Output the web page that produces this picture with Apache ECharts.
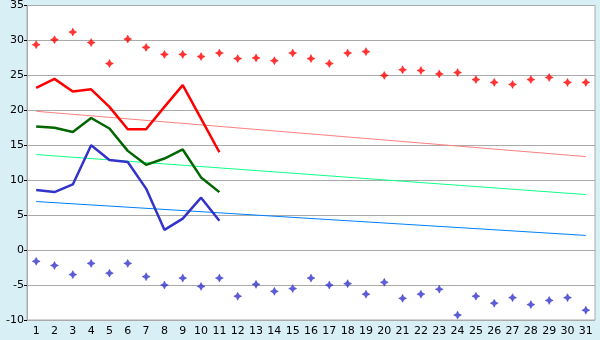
<!DOCTYPE html>
<html>
<head>
<meta charset="utf-8">
<script src="https://cdn.jsdelivr.net/npm/echarts@6/dist/echarts.min.js"></script>
<style>
html,body{margin:0;padding:0;background:#D9EFF6;}
#c{width:600px;height:340px;}
</style>
</head>
<body>
<div id="c"></div>
<script>
var days = ['1','2','3','4','5','6','7','8','9','10','11','12','13','14','15','16','17','18','19','20','21','22','23','24','25','26','27','28','29','30','31'];
var yTicks = [-10, -5, 0, 5, 10, 15, 20, 25, 30, 35];

// Record highs (red dots)
var recordMax = [29.4, 30.1, 31.2, 29.7, 26.7, 30.2, 29.0, 28.0, 28.0, 27.7, 28.2, 27.4, 27.5, 27.1, 28.2, 27.4, 26.7, 28.2, 28.4, 25.0, 25.8, 25.7, 25.2, 25.4, 24.4, 24.0, 23.7, 24.4, 24.7, 24.0, 24.0];
// Record lows (blue dots)
var recordMin = [-1.6, -2.2, -3.5, -1.9, -3.3, -1.9, -3.8, -5.0, -4.0, -5.2, -4.0, -6.6, -4.9, -5.9, -5.5, -4.0, -5.0, -4.8, -6.3, -4.6, -6.9, -6.3, -5.6, -9.3, -6.6, -7.6, -6.8, -7.8, -7.2, -6.8, -8.6];
// Current month values (days 1-11)
var maxTemp = [23.2, 24.5, 22.7, 23.0, 20.5, 17.3, 17.3, 20.5, 23.6, 18.8, 14.0];
var meanTemp = [17.7, 17.5, 16.9, 18.9, 17.4, 14.2, 12.2, 13.1, 14.4, 10.4, 8.3];
var minTemp = [8.6, 8.3, 9.4, 15.0, 12.9, 12.6, 8.8, 2.9, 4.5, 7.5, 4.2];
// Normal (climatological) lines: values at day 1 and day 31
var normMax = [['1', 19.86], ['31', 13.38]];
var normMean = [['1', 13.67], ['31', 7.95]];
var normMin = [['1', 6.95], ['31', 2.1]];

var star = 'path://M3.5,0L4.7,2.3L7,3.5L4.7,4.7L3.5,7L2.3,4.7L0,3.5L2.3,2.3Z';
var font = 'DejaVu Sans';

var chart = echarts.init(document.getElementById('c'), null, {renderer: 'canvas'});
chart.setOption({
  animation: false,
  backgroundColor: '#D9EFF6',
  textStyle: {fontFamily: font},
  grid: {left: 27, right: 5, top: 5, bottom: 20, show: true, backgroundColor: '#ffffff', borderColor: '#aaaaaa', borderWidth: 1},
  xAxis: {
    type: 'category', data: days, boundaryGap: true,
    axisLine: {lineStyle: {color: '#aaaaaa', width: 1}},
    axisTick: {alignWithLabel: true, length: 4, lineStyle: {color: '#000000'}},
    axisLabel: {color: '#000000', fontFamily: font, fontSize: 11, margin: 6, interval: 0},
    splitLine: {show: false}
  },
  yAxis: {
    type: 'value', min: yTicks[0], max: yTicks[yTicks.length - 1], interval: 5,
    axisLine: {show: true, lineStyle: {color: '#aaaaaa'}},
    axisTick: {show: true, length: 3, lineStyle: {color: '#000000'}},
    axisLabel: {color: '#000000', fontFamily: font, fontSize: 11, margin: 3},
    splitLine: {lineStyle: {color: '#aaaaaa', width: 1}}
  },
  series: [
    {type: 'line', data: normMax, symbol: 'none', lineStyle: {color: '#FF8080', width: 1}, z: 2},
    {type: 'line', data: normMean, symbol: 'none', lineStyle: {color: '#11FF88', width: 1}, z: 2},
    {type: 'line', data: normMin, symbol: 'none', lineStyle: {color: '#0080FF', width: 1}, z: 2},
    {type: 'line', data: maxTemp, symbol: 'none', lineStyle: {color: '#FF0000', width: 2.5}, z: 3},
    {type: 'line', data: meanTemp, symbol: 'none', lineStyle: {color: '#006600', width: 2.5}, z: 3},
    {type: 'line', data: minTemp, symbol: 'none', lineStyle: {color: '#3333CC', width: 2.5}, z: 3},
    {type: 'scatter', data: recordMax, symbol: star, symbolSize: 8, itemStyle: {color: '#FF0000', borderColor: '#FF0000', borderWidth: 0.5}, z: 4},
    {type: 'scatter', data: recordMin, symbol: star, symbolSize: 8, itemStyle: {color: '#3333CC', borderColor: '#3333CC', borderWidth: 0.5}, z: 4}
  ]
});
</script>
</body>
</html>
